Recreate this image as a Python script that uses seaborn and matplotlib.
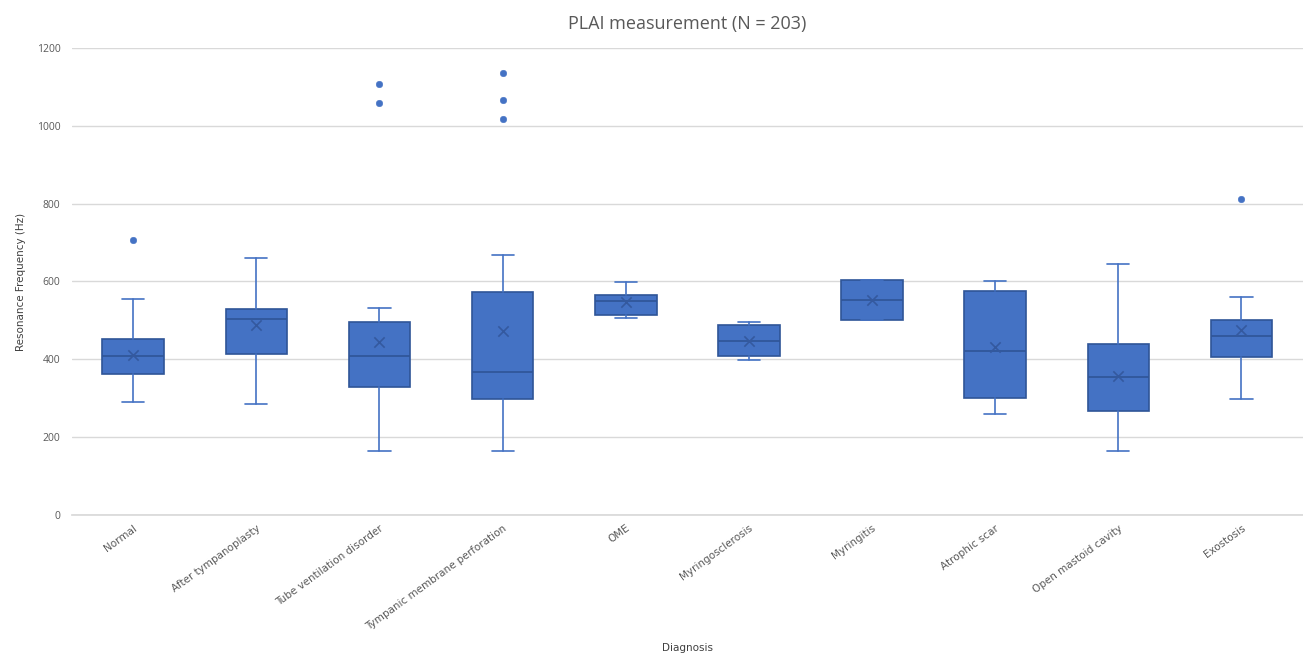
import matplotlib
matplotlib.use("Agg")
import matplotlib.pyplot as plt
import numpy as np
import pandas as pd
import seaborn as sns

CATEGORIES = ["Normal", "After tympanoplasty", "Tube ventilation disorder",
              "Tympanic membrane perforation", "OME", "Myringosclerosis",
              "Myringitis", "Atrophic scar", "Open mastoid cavity", "Exostosis"]
WHISK_LO = [289, 286, 163, 163, 505, 398, 501, 259, 163, 297]
Q1 = [362, 413, 328, 297, 513, 408, 501, 301, 266, 405]
MEDIAN = [408, 503, 408, 367, 549, 448, 552, 421, 355, 459]
Q3 = [452, 529, 496, 572, 564, 487, 603, 576, 440, 502]
WHISK_HI = [556, 660, 533, 668, 599, 495, 603, 602, 645, 559]
MEAN = [410, 487, 445, 472, 547, 447, 552, 432, 357, 474]
OUTLIERS = {
    "Normal": [706],
    "Tube ventilation disorder": [1060, 1108],
    "Tympanic membrane perforation": [1017, 1066, 1135],
    "Exostosis": [813],
}

BLUE = "#4472C4"
DARK = "#2F5597"

sns.set_theme(style="whitegrid")
plt.rcParams["font.family"] = ["Open Sans", "DejaVu Sans"]

fig = plt.figure(figsize=(13.03, 6.6), dpi=100)
ax = fig.add_axes([0.055, 0.22, 0.945, 0.707])

pos = np.arange(len(CATEGORIES))
stats = [dict(whislo=a, q1=b, med=c, q3=d, whishi=e, fliers=[])
         for a, b, c, d, e in zip(WHISK_LO, Q1, MEDIAN, Q3, WHISK_HI)]
ax.bxp(stats, positions=pos, widths=0.5, patch_artist=True, showfliers=False,
       boxprops=dict(facecolor=BLUE, edgecolor=DARK, linewidth=1.2),
       medianprops=dict(color=DARK, linewidth=1.2),
       whiskerprops=dict(color=BLUE, linewidth=1.2),
       capprops=dict(color=BLUE, linewidth=1.2), capwidths=0.18)

means = pd.DataFrame({"x": pos, "y": MEAN})
sns.scatterplot(data=means, x="x", y="y", marker="x", s=55, color="#34599F",
                linewidth=1.2, ax=ax, zorder=4)

out = pd.DataFrame([(CATEGORIES.index(k), v) for k, vals in OUTLIERS.items() for v in vals],
                   columns=["x", "y"])
sns.scatterplot(data=out, x="x", y="y", s=22, color=BLUE, edgecolor=BLUE, ax=ax, zorder=4)

ax.set_xlim(-0.5, len(CATEGORIES) - 0.5)
ax.set_ylim(0, 1200)
ax.set_yticks(range(0, 1201, 200))
ax.set_xticks(pos)
ax.set_xticklabels(CATEGORIES, rotation=36, ha="right", rotation_mode="anchor",
                   fontsize=7.5, color="#595959", family=["Liberation Sans Narrow", "DejaVu Sans"])
ax.tick_params(axis="y", labelsize=7.5, labelcolor="#595959", length=0, pad=8)
ax.tick_params(axis="x", length=0, pad=6)
ax.grid(axis="x", visible=False)
ax.grid(axis="y", color="#D9D9D9", linewidth=1)
for s in ["left", "right", "top"]:
    ax.spines[s].set_visible(False)
ax.spines["bottom"].set_color("#D9D9D9")

ax.set_xlabel("Diagnosis", fontsize=7.5, color="#404040", labelpad=8,
              family=["Liberation Sans Narrow", "DejaVu Sans"])
ax.set_ylabel("Resonance Frequency (Hz)", fontsize=7.5, color="#404040", labelpad=8,
              family=["Liberation Sans Narrow", "DejaVu Sans"])
ax.set_title("PLAI measurement (N = 203)", fontsize=13, color="#595959", pad=14)

fig.savefig("out.png", dpi=100)
